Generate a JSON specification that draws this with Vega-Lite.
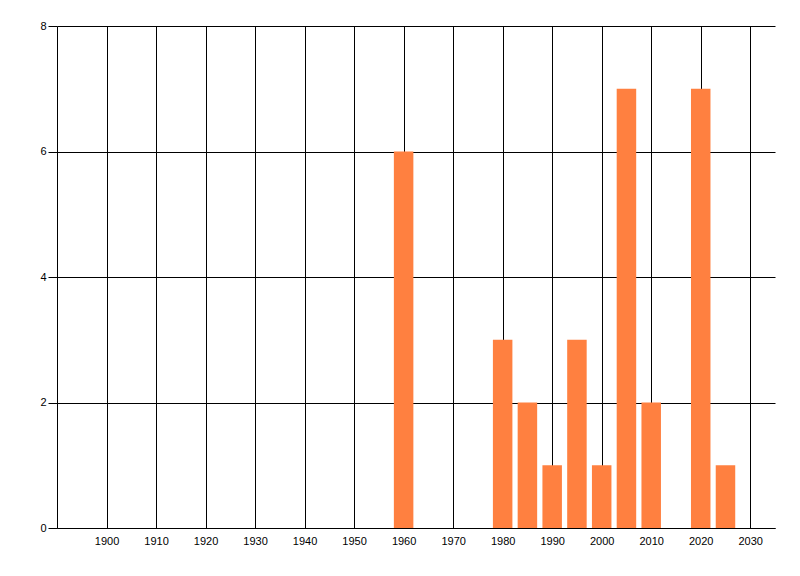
{
  "$schema": "https://vega.github.io/schema/vega-lite/v6.json",
  "autosize": "none",
  "width": 718,
  "height": 502,
  "padding": {"left": 57, "top": 26, "right": 25, "bottom": 48},
  "background": "white",
  "config": {"view": {"stroke": null}, "font": "Liberation Sans"},
  "data": {"values": [
    {"year": 1960, "count": 6},
    {"year": 1980, "count": 3},
    {"year": 1985, "count": 2},
    {"year": 1990, "count": 1},
    {"year": 1995, "count": 3},
    {"year": 2000, "count": 1},
    {"year": 2005, "count": 7},
    {"year": 2010, "count": 2},
    {"year": 2020, "count": 7},
    {"year": 2025, "count": 1}
  ]},
  "mark": {"type": "bar", "size": 19.5, "color": "#FF8040", "opacity": 1},
  "encoding": {
    "x": {
      "field": "year", "type": "quantitative",
      "scale": {"domain": [1890, 2035], "nice": false, "zero": false, "padding": 0},
      "axis": {
        "title": null, "values": [1900,1910,1920,1930,1940,1950,1960,1970,1980,1990,2000,2010,2020,2030],
        "format": "d", "ticks": false, "grid": true, "gridColor": "black", "gridOpacity": 1, "gridWidth": 1,
        "domainColor": "black", "domainWidth": 1, "labelColor": "black", "labelFontSize": 11,
        "labelPadding": 7, "labelFont": "Liberation Sans"
      }
    },
    "y": {
      "field": "count", "type": "quantitative",
      "scale": {"domain": [0, 8], "nice": false},
      "axis": {
        "title": null, "values": [0,2,4,6,8], "grid": true, "gridColor": "black", "gridOpacity": 1, "gridWidth": 1,
        "ticks": true, "tickSize": 9, "tickColor": "black", "domainColor": "black", "domainWidth": 1,
        "labelColor": "black", "labelFontSize": 11, "labelPadding": 2, "labelFont": "Liberation Sans"
      }
    }
  }
}
